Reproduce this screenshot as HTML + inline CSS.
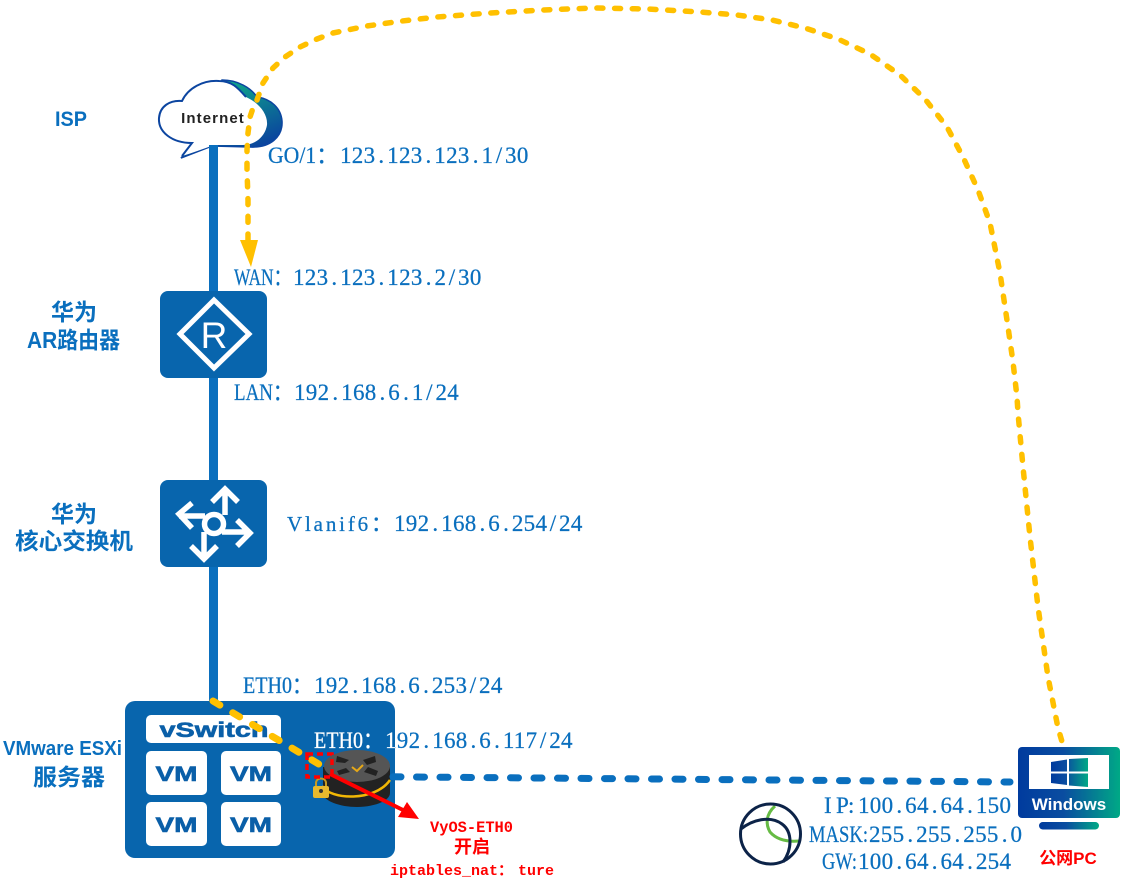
<!DOCTYPE html>
<html><head><meta charset="utf-8"><style>
html,body{margin:0;padding:0;background:#fff}
svg{display:block}
.t{font-family:"Liberation Serif","Noto Sans CJK SC",serif;font-size:23px;fill:#0a6fbe;stroke:#0a6fbe;stroke-width:.25px}
.c{font-family:"Liberation Sans","Noto Sans CJK SC",sans-serif;font-size:23px;font-weight:700;fill:#0a6fbe}
.r{font-family:"Liberation Mono","Noto Sans CJK SC",monospace;font-weight:700;fill:#f00;font-size:15px}
.v{font-family:"Liberation Sans",sans-serif;font-weight:700;fill:#0a5fa8;font-size:21px;text-anchor:middle;stroke:#0a5fa8;stroke-width:.6px}
</style></head><body>
<svg xmlns="http://www.w3.org/2000/svg" width="1122" height="881" viewBox="0 0 1122 881">
<defs>
<linearGradient id="g" x1="0" y1="0" x2="1" y2="0"><stop offset="0" stop-color="#003b9e"/><stop offset=".45" stop-color="#0a4da0"/><stop offset="1" stop-color="#00a986"/></linearGradient>
<linearGradient id="lg" gradientUnits="userSpaceOnUse" x1="1051" y1="0" x2="1088" y2="0"><stop offset="0" stop-color="#003b9e"/><stop offset=".4" stop-color="#0a4da0"/><stop offset="1" stop-color="#00a986"/></linearGradient>
<linearGradient id="g2" gradientUnits="userSpaceOnUse" x1="265" y1="148" x2="235" y2="80"><stop offset="0" stop-color="#0a3f9f"/><stop offset="1" stop-color="#0fa68a"/></linearGradient>
<clipPath id="inb"><rect x="0" y="700" width="395" height="100"/></clipPath>
<clipPath id="outb"><rect x="395" y="700" width="300" height="100"/></clipPath>
</defs>
<rect width="1122" height="881" fill="#fff"/>

<!-- trunk -->
<rect x="209" y="150" width="9" height="555" fill="#0a6fbe"/>

<!-- cloud -->
<path d="M181,158 L212,146 L250,147 C270,148 283,137 282,121 C281,108 271,99 257,97 C251,88 238,80 222,80 L215,120 Z" fill="url(#g2)" stroke="#0c45a0" stroke-width="1.500"/>
<path d="M182,156 L192,143 C172,143 158,132 159,118 C160,106 170,100 182,101 C188,88 203,80 219,81 C233,81 241,90 246,97 C259,103 268,114 267,125 C265,137 255,145 243,145 L214,145 C203,149 192,153 182,156 Z" fill="#fff"/>
<path d="M246,97 C238,88 232,81 219,81 C203,80 188,88 182,101 C170,100 160,106 159,118 C158,132 172,143 192,143 L182,156" fill="none" stroke="#0c45a0" stroke-width="2"/>
<text x="213" y="123" text-anchor="middle" font-family="Liberation Sans,sans-serif" font-size="15" font-weight="700" letter-spacing="1.100" fill="#222">Internet</text>
<rect x="209" y="145" width="9" height="14" fill="#0a6fbe"/>

<!-- router box -->
<rect x="160" y="291" width="107" height="87" rx="8" fill="#0865ad"/>
<path d="M214,300 L249,334 L214,368 L180,334 Z" fill="none" stroke="#fff" stroke-width="5"/>
<text x="214" y="348" text-anchor="middle" font-family="Liberation Sans,sans-serif" font-size="37" fill="#fff">R</text>

<!-- switch box -->
<rect x="160" y="480" width="107" height="87" rx="8" fill="#0865ad"/>
<g fill="none" stroke="#fff" stroke-width="5.500">
<path d="M225,515 V489 M212,502 L225,489 L238,502"/>
<path d="M205,516 H179 M192,503 L179,514 L192,528"/>
<path d="M204,532 V559 M191,546 L204,559 L217,546"/>
<path d="M222,532 H250 M237,520 L250,533 L237,546"/>
<circle cx="214" cy="524" r="9.500"/>
</g>

<!-- ESX box -->
<rect x="125" y="701" width="270" height="157" rx="10" fill="#0865ad"/>
<rect x="146" y="715" width="135" height="28" rx="5" fill="#fff"/>
<text class="v" x="214" y="737" textLength="109" lengthAdjust="spacingAndGlyphs">vSwitch</text>
<rect x="146" y="751" width="61" height="44" rx="5" fill="#fff"/>
<rect x="221" y="751" width="60" height="44" rx="5" fill="#fff"/>
<rect x="146" y="802" width="61" height="44" rx="5" fill="#fff"/>
<rect x="221" y="802" width="60" height="44" rx="5" fill="#fff"/>
<text class="v" x="176.500" y="781" textLength="42" lengthAdjust="spacingAndGlyphs">VM</text>
<text class="v" x="251" y="781" textLength="42" lengthAdjust="spacingAndGlyphs">VM</text>
<text class="v" x="176.500" y="832" textLength="42" lengthAdjust="spacingAndGlyphs">VM</text>
<text class="v" x="251" y="832" textLength="42" lengthAdjust="spacingAndGlyphs">VM</text>

<!-- VyOS router -->
<path d="M323,767 V793 C323,801 340,807 357,807 C374,807 390,801 390,793 V767 Z" fill="#222"/>
<path d="M322,786 C330,800 375,802 390,780" fill="none" stroke="#f2b705" stroke-width="2.500"/>
<ellipse cx="357" cy="766" rx="33" ry="16" fill="#555"/>
<g fill="#222">
<path d="M337,756 L349,760 L345,763 L336,762 Z"/>
<path d="M375,756 L363,760 L367,765 L376,762 Z"/>
<path d="M339,775 L350,772 L346,768 L337,771 Z"/>
<path d="M376,776 L364,772 L368,767 L378,771 Z"/>
</g>
<path d="M352,767 L357,771 L363,765" fill="none" stroke="#e6a817" stroke-width="2"/>
<rect x="313" y="786" width="16" height="12" rx="2" fill="#e8b92e"/>
<path d="M316,786 V783 C316,777 326,777 326,783 V786" fill="none" stroke="#c79a20" stroke-width="2"/>
<circle cx="321" cy="791" r="2" fill="#333"/>

<!-- connectors -->
<path d="M393,776.800 L1010,782" fill="none" stroke="#0a6fbe" stroke-width="7" stroke-linecap="round" stroke-dasharray="8 15.500"/>
<polyline points="248,240 248,200 247,170 247,150 248,133 250,117 253,108 257,100 263,83 273,68 285,57 300,47 317,39 333,33 367,26 402,21 437,17 490,13 543,10 595,8 648,9 700,12 737,15 772,20 805,28 838,39 870,54 900,75 925,99 947,127 963,157 978,190 990,223 995,248 1000,273 1004,300 1008,327 1013,362 1017,397 1018,413 1023,467 1030,537 1038,607 1048,677 1058,728 1063,745" fill="none" stroke="#ffc000" stroke-width="5.500" stroke-linecap="round" stroke-linejoin="round" stroke-dasharray="6 11.700"/>
<path d="M251,267 L240,240 L258,240 Z" fill="#ffc000"/>
<path d="M213,701 L322,766" fill="none" stroke="#ffc000" stroke-width="7" stroke-linecap="round" stroke-dasharray="8 15"/>

<!-- red -->
<rect x="307" y="754" width="25" height="23" fill="none" stroke="#f00" stroke-width="3.500" stroke-dasharray="6 4"/>
<path d="M330,774 L405,811" stroke="#f00" stroke-width="4" fill="none"/>
<path d="M419,819 L398,817 L407,802 Z" fill="#f00"/>

<!-- windows -->
<rect x="1018" y="747" width="102" height="71" rx="4" fill="url(#g)"/>
<rect x="1029" y="755" width="80" height="34" fill="#fff"/>
<g fill="url(#lg)">
<path d="M1051,762 L1067,759.500 V771.500 H1051 Z"/>
<path d="M1069,759 L1088,758 V771.500 H1069 Z"/>
<path d="M1051,773.500 H1067 V785 L1051,783 Z"/>
<path d="M1069,773.500 H1088 V787 L1069,785.500 Z"/>
</g>
<text x="1069" y="810" text-anchor="middle" font-family="Liberation Sans,sans-serif" font-weight="700" font-size="17" fill="#fff">Windows</text>
<rect x="1039" y="822" width="60" height="7.500" rx="3.700" fill="url(#g)"/>

<!-- globe -->
<path d="M775,806 C765,815 766,825 770,832 C777,840 787,842 799,841" fill="none" stroke="#66bb44" stroke-width="3"/>
<circle cx="770.500" cy="834" r="30" fill="none" stroke="#0c2348" stroke-width="3"/>
<path d="M741,829 C752,820 770,815 782,824 C793,832 792,850 783,862" fill="none" stroke="#0c2348" stroke-width="3"/>

<!-- blue labels -->
<text class="c" x="55" y="126" textLength="32" lengthAdjust="spacingAndGlyphs" style="font-size:21px">ISP</text>
<text class="c" x="74" y="320" text-anchor="middle">华为</text>
<text class="c" x="27" y="348" textLength="93" lengthAdjust="spacingAndGlyphs">AR路由器</text>
<text class="c" x="74" y="522" text-anchor="middle">华为</text>
<text class="c" x="15" y="549" textLength="118" lengthAdjust="spacingAndGlyphs">核心交换机</text>
<text class="c" x="3" y="755" textLength="119" lengthAdjust="spacingAndGlyphs" style="font-size:20px">VMware ESXi</text>
<text class="c" x="33" y="785" textLength="72" lengthAdjust="spacingAndGlyphs">服务器</text>

<text class="t" x="268" y="163" textLength="70" lengthAdjust="spacingAndGlyphs">GO/1：</text>
<text class="t" x="340" y="163" dx="0 .3 .3 3.3 3 .3 .3 3.3 3 .3 .3 3.3 3 2.8 2.9 .3">123.123.123.1/30</text>
<text class="t" x="234" y="285" textLength="57" lengthAdjust="spacingAndGlyphs">WAN：</text>
<text class="t" x="293" y="285" dx="0 .3 .3 3.3 3 .3 .3 3.3 3 .3 .3 3.3 3 2.8 2.9 .3">123.123.123.2/30</text>
<text class="t" x="234" y="400" textLength="58" lengthAdjust="spacingAndGlyphs">LAN：</text>
<text class="t" x="294" y="400" dx="0 .3 .3 3.3 3 .3 .3 3.3 3 3.3 3 2.8 2.9 .3">192.168.6.1/24</text>
<text class="t" x="287" y="531" x-list="" style="font-size:21px" textLength="105" lengthAdjust="spacing">Vlanif6：</text>
<text class="t" x="394" y="531" dx="0 .3 .3 3.3 3 .3 .3 3.3 3 3.3 3 .3 .3 2.8 2.9 .3">192.168.6.254/24</text>
<text class="t" x="243" y="693" textLength="69" lengthAdjust="spacingAndGlyphs">ETH0：</text>
<text class="t" x="314" y="693" dx="0 .3 .3 3.3 3 .3 .3 3.3 3 3.3 3 .3 .3 2.8 2.9 .3">192.168.6.253/24</text>
<text class="t" x="314" y="748" textLength="69" lengthAdjust="spacingAndGlyphs" style="fill:#fff;stroke:#fff">ETH0：</text>
<text class="t" x="385" y="748" dx="0 .3 .3 3.3 3 .3 .3 3.3 3 3.3 3 .3 .3 2.8 2.9 .3" clip-path="url(#inb)" style="fill:#fff;stroke:#fff">192.168.6.117/24</text>
<text class="t" x="385" y="748" dx="0 .3 .3 3.3 3 .3 .3 3.3 3 3.3 3 .3 .3 2.8 2.9 .3" clip-path="url(#outb)">192.168.6.117/24</text>
<text class="t" x="824 836 848" y="813">IP:</text>
<text class="t" x="858" y="813" dx="0 .3 .3 3.3 3 .3 3.3 3 .3 3.3 3 .3 .3">100.64.64.150</text>
<text class="t" x="809" y="842" textLength="59" lengthAdjust="spacingAndGlyphs">MASK:</text>
<text class="t" x="869" y="842" dx="0 .3 .3 3.3 3 .3 .3 3.3 3 .3 .3 3.3 3">255.255.255.0</text>
<text class="t" x="822" y="869" textLength="35" lengthAdjust="spacingAndGlyphs">GW:</text>
<text class="t" x="858" y="869" dx="0 .3 .3 3.3 3 .3 3.3 3 .3 3.3 3 .3 .3">100.64.64.254</text>

<!-- red labels -->
<text class="r" x="430" y="832" textLength="83" lengthAdjust="spacingAndGlyphs" style="font-size:16px">VyOS-ETH0</text>
<text x="472" y="853" text-anchor="middle" font-family="Noto Sans CJK SC,sans-serif" font-size="18" font-weight="700" fill="#f00">开启</text>
<text class="r" x="390" y="875">iptables_nat：</text>
<text class="r" x="518" y="875">ture</text>
<text x="1068" y="864" text-anchor="middle" font-family="Liberation Sans,Noto Sans CJK SC,sans-serif" font-size="17" font-weight="700" fill="#f00">公网PC</text>
</svg>
</body></html>
